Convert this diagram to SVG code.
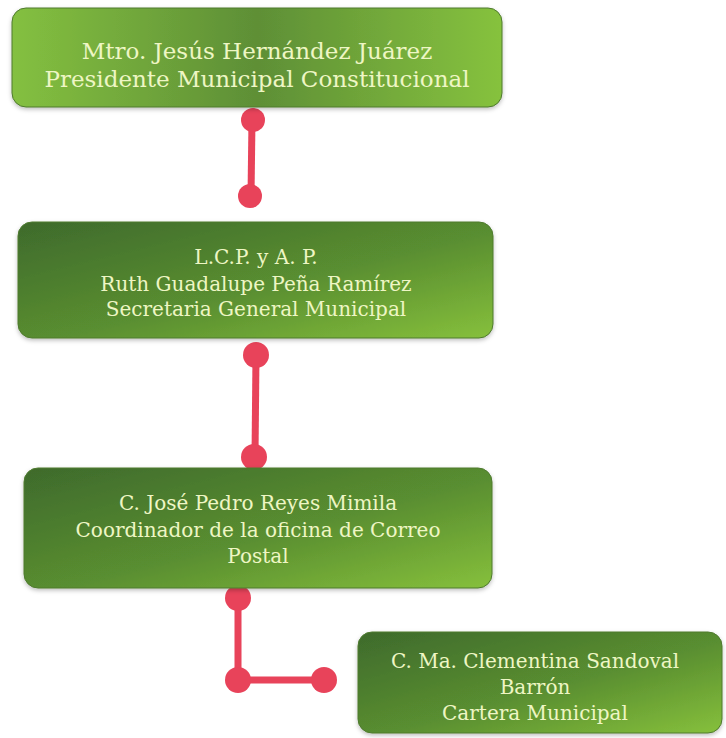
<svg xmlns="http://www.w3.org/2000/svg" width="726" height="738" viewBox="0 0 726 738">
<style>
.t{font-family:"DejaVu Serif","Liberation Serif",serif;fill:#eef6c4;text-anchor:middle;}
.box{stroke:#4e7a2e;stroke-width:1;}
.ln{stroke:#e8435a;stroke-width:7;fill:none;}
.dot{fill:#e8435a;}
</style>
<defs>
<linearGradient id="g1" x1="0" y1="0" x2="1" y2="0">
<stop offset="0" stop-color="#84c040"/>
<stop offset="0.5" stop-color="#5e8f36"/>
<stop offset="1" stop-color="#86c23e"/>
</linearGradient>
<linearGradient id="g2" x1="0" y1="0" x2="1" y2="1">
<stop offset="0" stop-color="#3e6a2c"/>
<stop offset="0.55" stop-color="#5a8f30"/>
<stop offset="1" stop-color="#86c03c"/>
</linearGradient>
<filter id="sh" x="-5%" y="-10%" width="110%" height="130%">
<feDropShadow dx="0" dy="2" stdDeviation="2" flood-color="#000" flood-opacity="0.25"/>
</filter>
</defs>
<rect width="726" height="738" fill="#ffffff"/>
<g id="connectors">
<line class="ln" x1="252" y1="120" x2="251" y2="196"/>
<circle class="dot" cx="253" cy="120" r="12"/>
<circle class="dot" cx="250" cy="196" r="12"/>
<line class="ln" x1="256" y1="355" x2="255" y2="457"/>
<circle class="dot" cx="256" cy="355" r="13"/>
<circle class="dot" cx="254" cy="457" r="13"/>
<polyline class="ln" points="238,598 238,680 324,680"/>
<circle class="dot" cx="238" cy="598" r="13"/>
<circle class="dot" cx="238" cy="680" r="13"/>
<circle class="dot" cx="324" cy="680" r="13"/>
</g>
<g id="node1">
<rect class="box" x="12" y="8" width="490" height="99" rx="14" fill="url(#g1)" filter="url(#sh)"/>
<text class="t" x="257" y="59" font-size="23">Mtro. Jesús Hernández Juárez</text>
<text class="t" x="257" y="87" font-size="23">Presidente Municipal Constitucional</text>
</g>
<g id="node2">
<rect class="box" x="18" y="222" width="475" height="116" rx="14" fill="url(#g2)" filter="url(#sh)"/>
<text class="t" x="256" y="264" font-size="20">L.C.P.  y A. P.</text>
<text class="t" x="256" y="291" font-size="20">Ruth Guadalupe Peña Ramírez</text>
<text class="t" x="256" y="316" font-size="20">Secretaria General Municipal</text>
</g>
<g id="node3">
<rect class="box" x="24" y="468" width="468" height="120" rx="14" fill="url(#g2)" filter="url(#sh)"/>
<text class="t" x="258" y="510" font-size="20">C. José Pedro Reyes Mimila</text>
<text class="t" x="258" y="537" font-size="20">Coordinador de la oficina de Correo</text>
<text class="t" x="258" y="563" font-size="20">Postal</text>
</g>
<g id="node4">
<rect class="box" x="358" y="632" width="364" height="101" rx="14" fill="url(#g2)" filter="url(#sh)"/>
<text class="t" x="535" y="668" font-size="20">C. Ma. Clementina Sandoval</text>
<text class="t" x="535" y="694" font-size="20">Barrón</text>
<text class="t" x="535" y="720" font-size="20">Cartera Municipal</text>
</g>
</svg>
